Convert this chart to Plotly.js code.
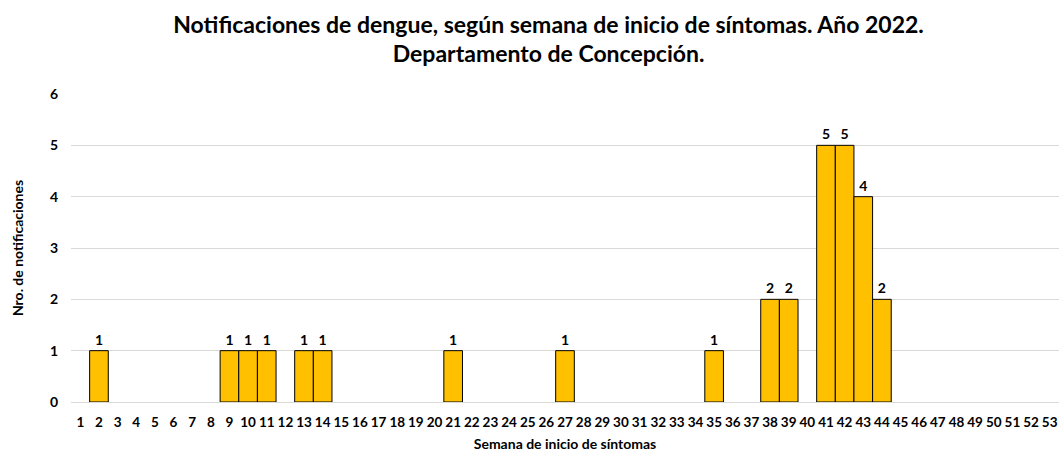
<!DOCTYPE html>
<html>
<head>
<meta charset="utf-8">
<script src="https://cdn.plot.ly/plotly-3.0.1.min.js"></script>
<style>html,body{margin:0;padding:0;background:#fff;}#chart{width:1059px;height:452px;}</style>
</head>
<body>
<div id="chart"></div>
<script>
const weeks = Array.from({length: 53}, (_, i) => String(i + 1));
const caseWeeks = ["2","9","10","11","13","14","21","27","35","38","39","41","42","43","44"];
const caseCounts = [1,1,1,1,1,1,1,1,1,2,2,5,5,4,2];
const yTicks = [0,1,2,3,4,5,6];

const FONT = "Lato, 'Open Sans', sans-serif";

const trace = {
  type: 'bar',
  x: caseWeeks,
  y: caseCounts,
  text: caseCounts.map(String),
  textposition: 'outside',
  cliponaxis: false,
  textfont: {family: FONT, size: 14, color: '#000', weight: 'bold'},
  marker: {color: '#FFC000', line: {color: '#000', width: 1}},
  hoverinfo: 'x+y'
};

const layout = {
  width: 1059, height: 452,
  margin: {l: 71, r: 0, t: 94, b: 50},
  paper_bgcolor: '#fff', plot_bgcolor: '#fff',
  bargap: 0,
  showlegend: false,
  title: {
    text: 'Notificaciones de dengue, según semana de inicio de síntomas. Año 2022.<br>Departamento de Concepción.',
    font: {family: FONT, size: 23, color: '#000', weight: 'bold'},
    x: 0.518, xanchor: 'center', y: 0.928, yanchor: 'top'
  },
  xaxis: {
    type: 'category',
    categoryorder: 'array', categoryarray: weeks,
    range: [-0.5, 52.5],
    tickvals: weeks, ticktext: weeks,
    tickfont: {family: FONT, size: 13.5, color: '#000', weight: 'bold'},
    showgrid: false, ticks: '', showline: false,
    ticklabelstandoff: 10,
    title: {text: 'Semana de inicio de síntomas', font: {family: FONT, size: 14, color: '#000', weight: 'bold'}, standoff: 12}
  },
  yaxis: {
    range: [0, 6],
    tickvals: yTicks,
    tickfont: {family: FONT, size: 14, color: '#000', weight: 'bold'},
    showgrid: true, gridcolor: '#d9d9d9', gridwidth: 1,
    zeroline: true, zerolinecolor: '#d9d9d9', zerolinewidth: 1,
    ticks: '', ticklabelstandoff: 12,
    title: {text: 'Nro. de notificaciones', font: {family: FONT, size: 14, color: '#000', weight: 'bold'}, standoff: 22}
  }
};

Plotly.newPlot('chart', [trace], layout, {displayModeBar: false, staticPlot: true});
</script>
</body>
</html>
